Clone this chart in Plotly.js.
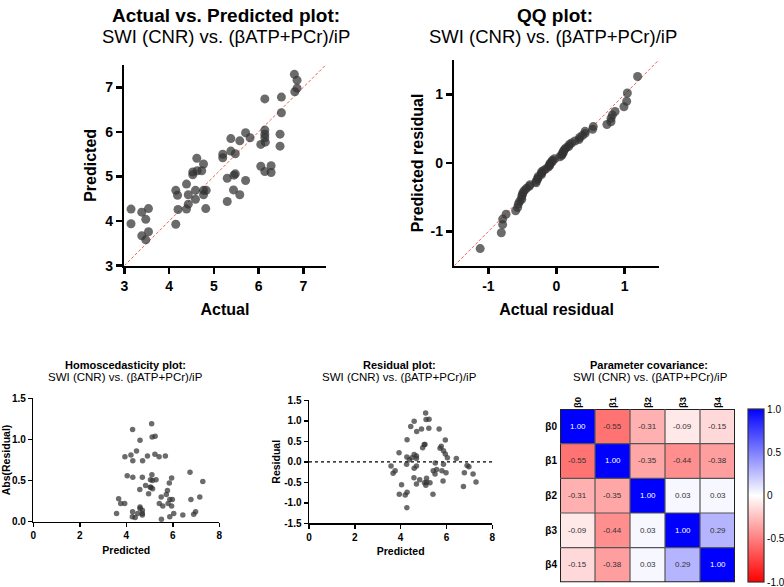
<!DOCTYPE html>
<html>
<head>
<meta charset="utf-8">
<script src="https://cdn.plot.ly/plotly-3.0.1.min.js"></script>
<style>html,body{margin:0;padding:0;background:#fff;}#chart{width:784px;height:587px;}</style>
</head>
<body>
<div id="chart"></div>
<script>
// ---- Data ----
const actual = [3.15,3.15,3.39,3.54,3.48,3.39,3.48,3.54,4.15,4.19,4.15,4.20,4.39,4.39,4.43,4.43,4.53,4.53,4.59,4.59,4.62,4.63,4.73,4.77,4.77,4.77,4.82,4.83,5.20,5.20,5.30,5.30,5.38,5.38,5.44,5.45,5.48,5.48,5.58,5.58,5.71,5.71,5.81,6.05,6.05,6.14,6.14,6.14,6.14,6.15,6.14,6.28,6.28,6.48,6.48,6.51,6.51,6.80,6.86,6.81,6.86];
const predicted = [4.27,3.94,4.20,4.28,4.04,3.67,3.58,3.76,4.69,4.58,3.93,4.26,4.83,4.27,4.38,4.59,5.04,5.10,4.49,4.69,5.41,5.13,5.13,5.28,4.69,4.59,4.28,4.69,5.50,5.42,4.96,4.44,5.85,5.57,4.70,5.03,5.06,5.51,4.59,5.80,4.91,5.98,5.87,5.72,5.23,6.74,6.04,5.95,5.87,5.77,5.11,5.24,5.09,5.95,5.68,6.78,6.43,7.29,7.16,6.90,6.98];
const residual = [-1.12,-0.79,-0.81,-0.74,-0.56,-0.28,-0.10,-0.22,-0.54,-0.39,0.22,-0.06,-0.44,0.12,0.05,-0.16,-0.51,-0.57,0.10,-0.10,-0.79,-0.50,-0.40,-0.51,0.08,0.18,0.54,0.14,-0.30,-0.22,0.34,0.86,-0.47,-0.19,0.74,0.42,0.42,-0.03,0.99,-0.22,0.80,-0.27,-0.06,0.33,0.82,-0.60,0.10,0.19,0.27,0.38,1.03,1.04,1.19,0.53,0.80,-0.27,0.08,-0.49,-0.30,-0.09,-0.12];
const absResidual = [1.12,0.79,0.81,0.74,0.56,0.28,0.10,0.22,0.54,0.39,0.22,0.06,0.44,0.12,0.05,0.16,0.51,0.57,0.10,0.10,0.79,0.50,0.40,0.51,0.08,0.18,0.54,0.14,0.30,0.22,0.34,0.86,0.47,0.19,0.74,0.42,0.42,0.03,0.99,0.22,0.80,0.27,0.06,0.33,0.82,0.60,0.10,0.19,0.27,0.38,1.03,1.04,1.19,0.53,0.80,0.27,0.08,0.49,0.30,0.09,0.12];
const qqActual = [-1.12,-0.81,-0.79,-0.79,-0.74,-0.60,-0.57,-0.56,-0.54,-0.51,-0.51,-0.50,-0.49,-0.47,-0.44,-0.40,-0.39,-0.30,-0.30,-0.28,-0.27,-0.27,-0.22,-0.22,-0.22,-0.19,-0.16,-0.12,-0.10,-0.10,-0.09,-0.06,-0.06,-0.03,0.05,0.08,0.08,0.10,0.10,0.12,0.14,0.18,0.19,0.22,0.27,0.33,0.34,0.38,0.42,0.42,0.53,0.54,0.74,0.80,0.80,0.82,0.86,0.99,1.03,1.04,1.19];
const qqPredicted = [-1.25,-1.02,-0.90,-0.82,-0.75,-0.70,-0.65,-0.60,-0.56,-0.53,-0.49,-0.46,-0.43,-0.40,-0.37,-0.34,-0.32,-0.29,-0.27,-0.24,-0.22,-0.20,-0.17,-0.15,-0.13,-0.11,-0.09,-0.06,-0.04,-0.02,0.00,0.02,0.04,0.06,0.09,0.11,0.13,0.15,0.17,0.20,0.22,0.24,0.27,0.29,0.32,0.34,0.37,0.40,0.43,0.46,0.49,0.53,0.56,0.60,0.65,0.70,0.75,0.82,0.90,1.02,1.26];
const params = ['β0','β1','β2','β3','β4'];
const covariance = [
  [ 1.00,-0.55,-0.31,-0.09,-0.15],
  [-0.55, 1.00,-0.35,-0.44,-0.38],
  [-0.31,-0.35, 1.00, 0.03, 0.03],
  [-0.09,-0.44, 0.03, 1.00, 0.29],
  [-0.15,-0.38, 0.03, 0.29, 1.00]
];
const avpTicks = [3,4,5,6,7];
const qqTicks = [-1,0,1];
const qqTickText = ['-1','0','1'];
const predTicks = [0,2,4,6,8];
const absTicks = [0,0.5,1.0,1.5];
const absTickText = ['0.0','0.5','1.0','1.5'];
const resTicks = [-1.5,-1.0,-0.5,0,0.5,1.0,1.5];
const resTickText = ['-1.5','-1.0','-0.5','0.0','0.5','1.0','1.5'];
const cbTicks = [-1,-0.5,0,0.5,1];
const cbTickText = ['-1.0','-0.5','0','0.5','1.0'];
const subtitle = 'SWI (CNR) vs. (βATP+PCr)/iP';

// ---- Styles ----
const FONT = 'Liberation Sans, Arial, Helvetica, sans-serif';
const dotColor = 'rgba(50,50,50,0.72)';
const idLine = {color:'rgba(232,70,60,0.85)', width:1, dash:'3px,2px'};

function bigAxis(extra){
  return Object.assign({
    showline:true, linewidth:2.5, linecolor:'#000', mirror:false,
    ticks:'outside', ticklen:6, tickwidth:2.5, tickcolor:'#000',
    showgrid:false, zeroline:false, fixedrange:true,
    tickfont:{family:FONT, size:14, weight:'bold', color:'#000'}
  }, extra);
}
function smallAxis(extra){
  return Object.assign({
    showline:true, linewidth:1.5, linecolor:'#000', mirror:false,
    ticks:'outside', ticklen:4, tickwidth:1.5, tickcolor:'#000',
    showgrid:false, zeroline:false, fixedrange:true,
    tickfont:{family:FONT, size:10, weight:'bold', color:'#000'}
  }, extra);
}

const traces = [
  {type:'scatter', mode:'lines', x:[3,7.5], y:[3,7.5], xaxis:'x', yaxis:'y', line:idLine, hoverinfo:'skip'},
  {type:'scatter', mode:'markers', x:actual, y:predicted, xaxis:'x', yaxis:'y', cliponaxis:false,
   marker:{size:9, color:dotColor, line:{width:0}}},
  {type:'scatter', mode:'lines', x:[-1.5,1.5], y:[-1.5,1.5], xaxis:'x2', yaxis:'y2', line:idLine, hoverinfo:'skip'},
  {type:'scatter', mode:'markers', x:qqActual, y:qqPredicted, xaxis:'x2', yaxis:'y2', cliponaxis:false,
   marker:{size:9, color:dotColor, line:{width:0}}},
  {type:'scatter', mode:'markers', x:predicted, y:absResidual, xaxis:'x3', yaxis:'y3', cliponaxis:false,
   marker:{size:5.5, color:dotColor, line:{width:0}}},
  {type:'scatter', mode:'markers', x:predicted, y:residual, xaxis:'x4', yaxis:'y4', cliponaxis:false,
   marker:{size:5.5, color:dotColor, line:{width:0}}},
  {type:'heatmap', z:covariance, x:params, y:params, xaxis:'x5', yaxis:'y5',
   zmin:-1, zmax:1, colorscale:[[0,'#ff0000'],[0.5,'#ffffff'],[1,'#0000ff']],
   hoverinfo:'skip',
   colorbar:{x:748.3/784, xanchor:'left', y:0.1556, yanchor:'middle',
     len:173.3, lenmode:'pixels', thickness:16, thicknessmode:'pixels',
     xpad:0, ypad:0, outlinewidth:1.2, outlinecolor:'#333',
     tickvals:cbTicks, ticktext:cbTickText, ticks:'', ticklabelpad:0,
     ticklabeloverflow:'allow',
     tickfont:{family:FONT, size:10, color:'#000'}}}
];

// annotations: titles and heatmap cell values
const ann = [];
function title(px, py, text, size, bold){
  ann.push({xref:'paper', yref:'paper', x:px/784, y:1-py/587, xanchor:'center', yanchor:'middle',
    showarrow:false, text:text, font:{family:FONT, size:size, weight:bold?'bold':'normal', color:'#000'}});
}
title(226, 15, 'Actual vs. Predicted plot:', 19, true);
title(226, 37, subtitle, 18.5, false);
title(555, 15, 'QQ plot:', 19, true);
title(553, 37, subtitle, 18.5, false);
title(125, 365, 'Homoscedasticity plot:', 11, true);
title(125, 377, subtitle, 11.5, false);
title(399, 365, 'Residual plot:', 11, true);
title(399, 377, subtitle, 11.5, false);
title(649, 365, 'Parameter covariance:', 11, true);
title(650, 377, subtitle, 11.5, false);

covariance.forEach((row, i) => row.forEach((v, j) => {
  ann.push({xref:'x5', yref:'y5', x:params[j], y:params[i], text:v.toFixed(2), showarrow:false,
    font:{family:FONT, size:8, color: v > 0.9 ? '#fff' : '#333'}});
}));

// cell borders of the heatmap
const shapes = [];
for (let k = 0; k <= params.length; k++) {
  const p = k - 0.5;
  const w = (k === 0 || k === params.length) ? 2 : 1.2;
  const c = (k === 0 || k === params.length) ? '#222' : '#555';
  shapes.push({type:'line', xref:'x5', yref:'y5', x0:p, x1:p, y0:-0.5, y1:params.length-0.5, line:{color:c, width:w}});
  shapes.push({type:'line', xref:'x5', yref:'y5', y0:p, y1:p, x0:-0.5, x1:params.length-0.5, line:{color:c, width:w}});
}
shapes.push({type:'line', xref:'x4', yref:'y4', x0:0, x1:8, y0:0, y1:0, line:{color:'#000', width:1.2, dash:'dot'}, layer:'below'});

const bigTitle = (t, s) => ({text:t, standoff:s, font:{family:FONT, size:16, weight:'bold', color:'#000'}});
const smallTitle = (t, s) => ({text:t, standoff:s, font:{family:FONT, size:10.5, weight:'bold', color:'#000'}});

const layout = {
  width:784, height:587, margin:{l:0, r:0, t:0, b:0},
  paper_bgcolor:'#fff', plot_bgcolor:'rgba(0,0,0,0)', showlegend:false,
  font:{family:FONT, color:'#000'},
  xaxis: bigAxis({domain:[124.3/784, 325.7/784], anchor:'y', range:[3,7.5], tickvals:avpTicks, title:bigTitle('Actual', 11)}),
  yaxis: bigAxis({domain:[1-265.7/587, 1-65/587], anchor:'x', range:[3,7.5], tickvals:avpTicks, title:bigTitle('Predicted', 5)}),
  xaxis2: bigAxis({domain:[454.3/784, 658.7/784], anchor:'y2', range:[-1.5,1.5], tickvals:qqTicks, ticktext:qqTickText, title:bigTitle('Actual residual', 11)}),
  yaxis2: bigAxis({domain:[1-265.7/587, 1-60.1/587], anchor:'x2', range:[-1.5,1.5], tickvals:qqTicks, ticktext:qqTickText, title:bigTitle('Predicted residual', 3)}),
  xaxis3: smallAxis({domain:[33.3/784, 219.3/784], anchor:'y3', range:[0,8], tickvals:predTicks, title:smallTitle('Predicted', 6)}),
  yaxis3: smallAxis({domain:[1-521.7/587, 1-398.3/587], anchor:'x3', range:[0,1.5], tickvals:absTicks, ticktext:absTickText, title:smallTitle('Abs(Residual)', 5)}),
  xaxis4: smallAxis({domain:[309/784, 492.3/784], anchor:'y4', range:[0,8], tickvals:predTicks, title:smallTitle('Predicted', 6)}),
  yaxis4: smallAxis({domain:[1-523.3/587, 1-400.3/587], anchor:'x4', range:[-1.5,1.5], tickvals:resTicks, ticktext:resTickText, title:smallTitle('Residual', 1)}),
  xaxis5: {domain:[560/784, 735/784], anchor:'y5', side:'top', tickangle:-90, showline:false, showgrid:false, zeroline:false,
           ticks:'', fixedrange:true, range:[-0.5,4.5], tickfont:{family:FONT, size:9.5, weight:'bold', color:'#000'}},
  yaxis5: {domain:[1-582.3/587, 1-409/587], anchor:'x5', range:[4.5,-0.5], showline:false, showgrid:false, zeroline:false,
           ticks:'', fixedrange:true, ticklabelstandoff:2, tickfont:{family:FONT, size:10, weight:'bold', color:'#000'}},
  annotations: ann,
  shapes: shapes
};

Plotly.newPlot('chart', traces, layout, {displayModeBar:false, staticPlot:true});
</script>
</body>
</html>
